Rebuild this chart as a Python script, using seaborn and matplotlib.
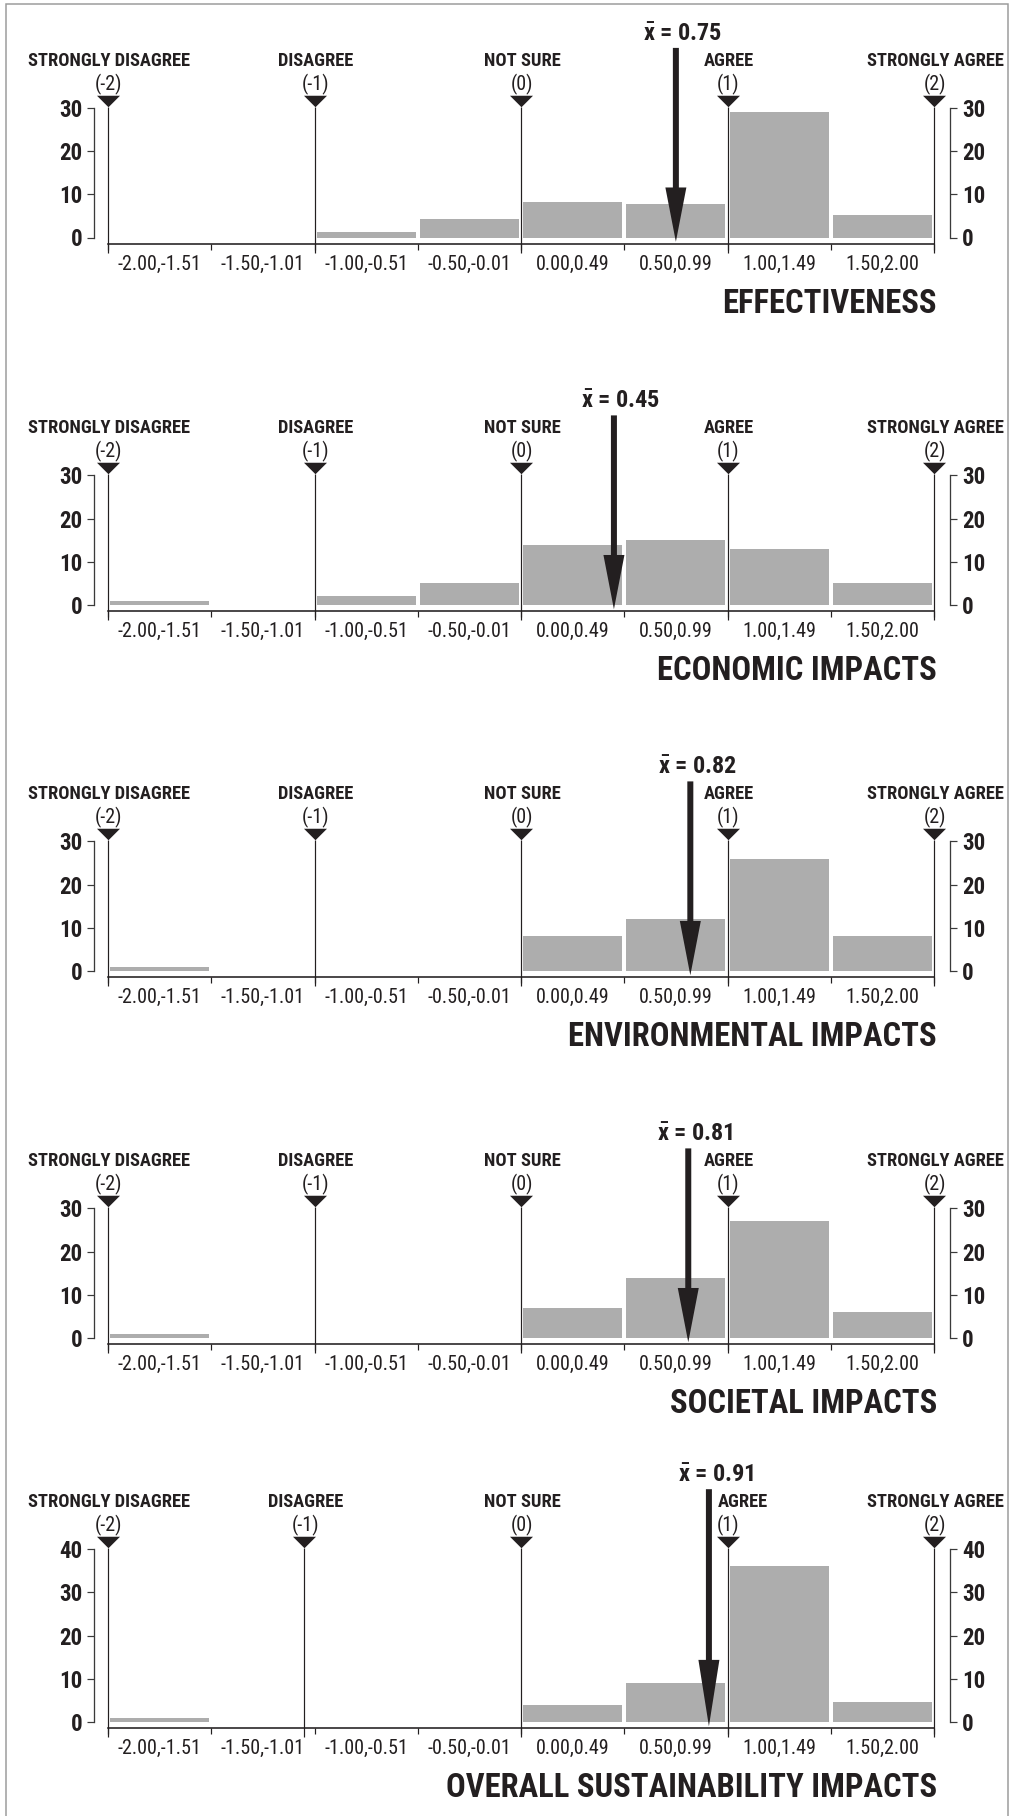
import numpy as np
import matplotlib
matplotlib.use("Agg")
import matplotlib.pyplot as plt
import matplotlib.transforms as mtransforms
from matplotlib import font_manager as fm
from matplotlib.patches import Rectangle
import seaborn as sns

# ---- data -------------------------------------------------------------
bin_edges = [-2.0, -1.5, -1.0, -0.5, 0.0, 0.5, 1.0, 1.5, 2.0]
bin_labels = ["-2.00,-1.51", "-1.50,-1.01", "-1.00,-0.51", "-0.50,-0.01",
              "0.00,0.49", "0.50,0.99", "1.00,1.49", "1.50,2.00"]

effectiveness = [0, 0, 1.2, 4.2, 8.2, 7.8, 29, 5.1]
economic = [1, 0, 2, 5, 14, 15, 13, 5]
environmental = [1, 0, 0, 0, 8, 12, 26, 8]
societal = [1, 0, 0, 0, 7, 14, 27, 6]
overall = [1, 0, 0, 0, 4, 9, 36, 4.6]

panel_titles = ["EFFECTIVENESS", "ECONOMIC IMPACTS", "ENVIRONMENTAL IMPACTS",
                "SOCIETAL IMPACTS", "OVERALL SUSTAINABILITY IMPACTS"]
panel_counts = [effectiveness, economic, environmental, societal, overall]
panel_means = [0.75, 0.45, 0.82, 0.81, 0.91]
panel_ymax = [30, 30, 30, 30, 40]

likert_names = ["STRONGLY DISAGREE", "DISAGREE", "NOT SURE", "AGREE", "STRONGLY AGREE"]
likert_codes = ["(-2)", "(-1)", "(0)", "(1)", "(2)"]
likert_positions = [
    [-2, -1, 0, 1, 2],
    [-2, -1, 0, 1, 2],
    [-2, -1, 0, 1, 2],
    [-2, -1, 0, 1, 2],
    [-2, -1.05, 0, 1, 2],
]
# horizontal nudge (pixels) of the scale-point names, per panel
likert_name_nudge = [
    [0, 0, 0, 0, 0],
    [0, 0, 0, 0, 0],
    [0, 0, 0, 0, 0],
    [0, 0, 0, 0, 0],
    [0, 0, 0, 14, 0],
]

# ---- font: prefer a narrow sans ----------------------------------------
entries = fm.fontManager.ttflist
names = {e.name for e in entries}
FONT, STRETCH = None, "normal"
for cand in ["Roboto Condensed", "Liberation Sans Narrow", "Arial Narrow",
             "Nimbus Sans Narrow", "Noto Sans Condensed", "Open Sans Condensed",
             "DejaVu Sans Condensed"]:
    if cand in names:
        FONT = cand
        break
if FONT is None:
    narrow = [e.name for e in entries if "Condensed" in e.name or "Narrow" in e.name]
    if narrow:
        FONT = narrow[0]
if FONT is None:
    cond = [e for e in entries
            if e.stretch in ("condensed", "semi-condensed", "extra-condensed")]
    if cond:
        FONT, STRETCH = cond[0].name, cond[0].stretch
NARROW = FONT is not None
if FONT is None:
    FONT = "Roboto"
SZ = 1.0 if NARROW else 0.86

# ---- style ------------------------------------------------------------
sns.set_style("white")
plt.rcParams["font.family"] = [FONT, "DejaVu Sans"]
plt.rcParams["font.stretch"] = STRETCH
plt.rcParams["mathtext.fontset"] = "custom"
for key in ["mathtext.it", "mathtext.rm", "mathtext.bf"]:
    plt.rcParams[key] = f"{FONT}:bold"

INK = "#231f20"
SPINE = "#3a3a3a"
BAR = "#adadad"

W, H, DPI = 1027, 1816, 100
fig = plt.figure(figsize=(W / DPI, H / DPI), dpi=DPI)
fig.patch.set_facecolor("white")


def pt(px):
    return px * 72.0 / DPI


PX_X = 206.5          # pixels per unit on the score axis
PX_Y = 4.32           # pixels per respondent
X0_PX = 108           # pixel column of score -2
AX_LEFT_PX, AX_RIGHT_PX = 94, 950
YBOT = -1.45
zero_rows = [237.5, 605, 971, 1338, 1722]

centers = [(a + b) / 2 for a, b in zip(bin_edges[:-1], bin_edges[1:])]
xlo = -2 - (X0_PX - AX_LEFT_PX) / PX_X
xhi = 2 + (AX_RIGHT_PX - (X0_PX + 4 * PX_X)) / PX_X

tri_verts = [(-1, 0.5), (1, 0.5), (0, -0.5)]

for i in range(5):
    ymax = panel_ymax[i]
    counts = panel_counts[i]
    top_px = zero_rows[i] - ymax * PX_Y
    bot_px = zero_rows[i] - YBOT * PX_Y
    ax = fig.add_axes([AX_LEFT_PX / W, 1 - bot_px / H,
                       (AX_RIGHT_PX - AX_LEFT_PX) / W, (bot_px - top_px) / H])
    ax.set_facecolor("none")

    sns.histplot(x=centers, weights=counts, bins=bin_edges, shrink=0.96,
                 color=BAR, alpha=1, linewidth=0, ax=ax, zorder=2)

    ax.set_xlim(xlo, xhi)
    ax.set_ylim(YBOT, ymax)
    ax.set_xlabel("")
    ax.set_ylabel("")

    ax.spines["top"].set_visible(False)
    for side in ["left", "right"]:
        ax.spines[side].set_bounds(0, ymax)
        ax.spines[side].set_color(SPINE)
        ax.spines[side].set_linewidth(pt(1.3))
    ax.spines["bottom"].set_bounds(-2, 2)
    ax.spines["bottom"].set_color(INK)
    ax.spines["bottom"].set_linewidth(pt(1.6))

    # score axis: boundary ticks, range labels centred in each bin
    ax.set_xticks(bin_edges)
    ax.set_xticklabels([])
    ax.set_xticks(centers, minor=True)
    ax.set_xticklabels(bin_labels, minor=True)
    ax.tick_params(axis="x", which="major", bottom=True, length=pt(6),
                   width=pt(1.2), color=INK, direction="out")
    ax.tick_params(axis="x", which="minor", bottom=True, length=0,
                   pad=pt(11), labelsize=14.5 * SZ, labelcolor=INK)

    # count axes on both sides
    ax.set_yticks(np.arange(0, ymax + 1, 10))
    ax.tick_params(axis="y", which="major", left=True, right=True,
                   labelleft=True, labelright=True, length=pt(7),
                   width=pt(1.2), pad=pt(5), labelsize=16.5 * SZ, color=SPINE,
                   labelcolor=INK, direction="out")
    for t in ax.yaxis.get_major_ticks():
        t.label1.set_fontweight("bold")
        t.label2.set_fontweight("bold")

    pos = likert_positions[i]
    # scale-point guide lines
    ax.vlines(pos, YBOT - 9 / PX_Y, ymax + 1 / PX_Y, colors=INK,
              linewidth=pt(1.2), clip_on=False, zorder=3)

    top_trans = mtransforms.blended_transform_factory(ax.transData, ax.transAxes)
    tri_trans = mtransforms.offset_copy(top_trans, fig=fig, x=0, y=7, units="dots")
    ax.plot(pos, [1] * len(pos), linestyle="none", marker=tri_verts,
            markersize=pt(23), color=INK, markeredgewidth=0,
            transform=tri_trans, clip_on=False, zorder=4)

    for j, x in enumerate(pos):
        ax.annotate(likert_codes[j], xy=(x, 1), xycoords=top_trans,
                    xytext=(1, 18), textcoords="offset pixels",
                    ha="center", va="baseline", fontsize=14.5 * SZ, color=INK)
        ax.annotate(likert_names[j], xy=(x, 1), xycoords=top_trans,
                    xytext=(1 + likert_name_nudge[i][j], 42),
                    textcoords="offset pixels", ha="center", va="baseline",
                    fontsize=13.3 * SZ, fontweight="bold", color=INK)

    # mean arrow
    m = panel_means[i]
    y_start = ymax + 60 / PX_Y
    y_tip = YBOT + 2 / PX_Y
    length = y_start - y_tip
    ax.arrow(m, y_start, 0, -length, width=6 / PX_X, head_width=21 / PX_X,
             head_length=0.28 * length, length_includes_head=True,
             color=INK, linewidth=0, clip_on=False, zorder=6)
    ax.annotate(r"$\bar{x}$ = %.2f" % m, xy=(m, 1), xycoords=top_trans,
                xytext=(7, 67), textcoords="offset pixels", ha="center",
                va="baseline", fontsize=17.5 * SZ, fontweight="bold", color=INK)

    ax.annotate(panel_titles[i], xy=(2, 0), xycoords=top_trans,
                xytext=(3, -69), textcoords="offset pixels", ha="right",
                va="baseline", fontsize=23.5 * SZ, fontweight="bold", color=INK)

# page frame
fig.add_artist(Rectangle((6 / W, -0.02), (1008 - 6) / W, 1 - 4 / H + 0.02,
                         transform=fig.transFigure, fill=False,
                         edgecolor="#9a9a9a", linewidth=pt(1.5)))

fig.savefig("out.png", dpi=DPI)
